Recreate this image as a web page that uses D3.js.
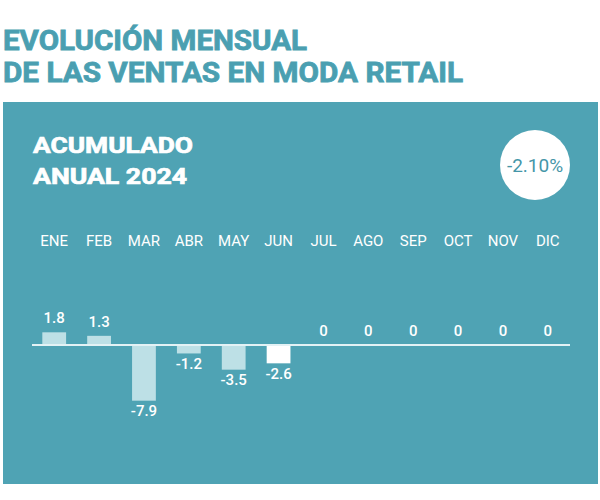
<!DOCTYPE html>
<html>
<head>
<meta charset="utf-8">
<script src="https://cdn.jsdelivr.net/npm/d3@7"></script>
<style>
  body { margin: 0; background: #fff; }
  svg { display: block; font-family: Roboto, "Noto Sans", sans-serif; }
</style>
</head>
<body>
<div id="chart"></div>
<script>
// data
var months = ["ENE","FEB","MAR","ABR","MAY","JUN","JUL","AGO","SEP","OCT","NOV","DIC"]
var values = [1.8, 1.3, -7.9, -1.2, -3.5, -2.6, 0, 0, 0, 0, 0, 0]
var titleLines = ["EVOLUCIÓN MENSUAL", "DE LAS VENTAS EN MODA RETAIL"]
var subtitleLines = ["ACUMULADO", "ANUAL 2024"]
var total = "-2.10%"
var highlight = "JUN"

var teal = "#4a9fb1"
var panel = "#4fa3b4"
var barColor = "#bde0e6"

var svg = d3.select("#chart").append("svg")
    .attr("width", 600)
    .attr("height", 500)

// title (stroke to fake the heavier condensed face)
svg.append("text")
    .attr("x", 3).attr("y", 50)
    .attr("font-size", 28).attr("font-weight", 700)
    .attr("fill", teal).attr("stroke", teal).attr("stroke-width", 0.8)
    .attr("textLength", 304).attr("lengthAdjust", "spacingAndGlyphs")
    .text(titleLines[0])
svg.append("text")
    .attr("x", 3).attr("y", 82)
    .attr("font-size", 28).attr("font-weight", 700)
    .attr("fill", teal).attr("stroke", teal).attr("stroke-width", 0.8)
    .attr("textLength", 460).attr("lengthAdjust", "spacingAndGlyphs")
    .text(titleLines[1])

// panel
svg.append("rect")
    .attr("x", 3).attr("y", 102)
    .attr("width", 595).attr("height", 382)
    .attr("fill", panel)

svg.append("text")
    .attr("x", 33).attr("y", 153)
    .attr("font-size", 22).attr("font-weight", 700)
    .attr("fill", "#fff").attr("stroke", "#fff").attr("stroke-width", 0.7)
    .attr("textLength", 160).attr("lengthAdjust", "spacingAndGlyphs")
    .text(subtitleLines[0])
svg.append("text")
    .attr("x", 33).attr("y", 184)
    .attr("font-size", 22).attr("font-weight", 700)
    .attr("fill", "#fff").attr("stroke", "#fff").attr("stroke-width", 0.7)
    .attr("textLength", 154).attr("lengthAdjust", "spacingAndGlyphs")
    .text(subtitleLines[1])

// total badge
svg.append("circle")
    .attr("cx", 535).attr("cy", 165).attr("r", 35)
    .attr("fill", "#fff")
svg.append("text")
    .attr("x", 535).attr("y", 172)
    .attr("text-anchor", "middle")
    .attr("font-size", 19)
    .attr("fill", "#4596a8")
    .text(total)

// scales
var x = d3.scaleBand()
    .domain(months)
    .range([32, 570])
    .paddingInner(0.47)
    .paddingOuter(0.23)

var y = d3.scaleLinear()
    .domain([-8, 2])
    .range([401.4, 330.9])

// month labels
svg.append("g")
  .selectAll("text")
  .data(months)
  .enter().append("text")
    .attr("x", function(d) { return x(d) + x.bandwidth() / 2 })
    .attr("y", 245.5)
    .attr("text-anchor", "middle")
    .attr("font-size", 15)
    .attr("fill", "#fff")
    .text(function(d) { return d })

// bars
svg.append("g")
  .selectAll("rect")
  .data(values)
  .enter().append("rect")
    .attr("x", function(d, i) { return x(months[i]) })
    .attr("y", function(d) { return y(Math.max(0, d)) })
    .attr("width", x.bandwidth())
    .attr("height", function(d) { return Math.abs(y(d) - y(0)) })
    .attr("fill", function(d, i) { return months[i] == highlight ? "#fff" : barColor })

// zero line
svg.append("line")
    .attr("x1", 32).attr("x2", 570)
    .attr("y1", y(0)).attr("y2", y(0))
    .attr("stroke", "#e3f2f5")
    .attr("stroke-width", 2)

// value labels
svg.append("g")
  .selectAll("text")
  .data(values)
  .enter().append("text")
    .attr("x", function(d, i) { return x(months[i]) + x.bandwidth() / 2 })
    .attr("y", function(d) { return d < 0 ? y(d) + 15.5 : y(d) - 9 })
    .attr("text-anchor", "middle")
    .attr("font-size", 15)
    .attr("font-weight", 500)
    .attr("fill", "#fff")
    .text(function(d) { return d })
</script>
</body>
</html>
